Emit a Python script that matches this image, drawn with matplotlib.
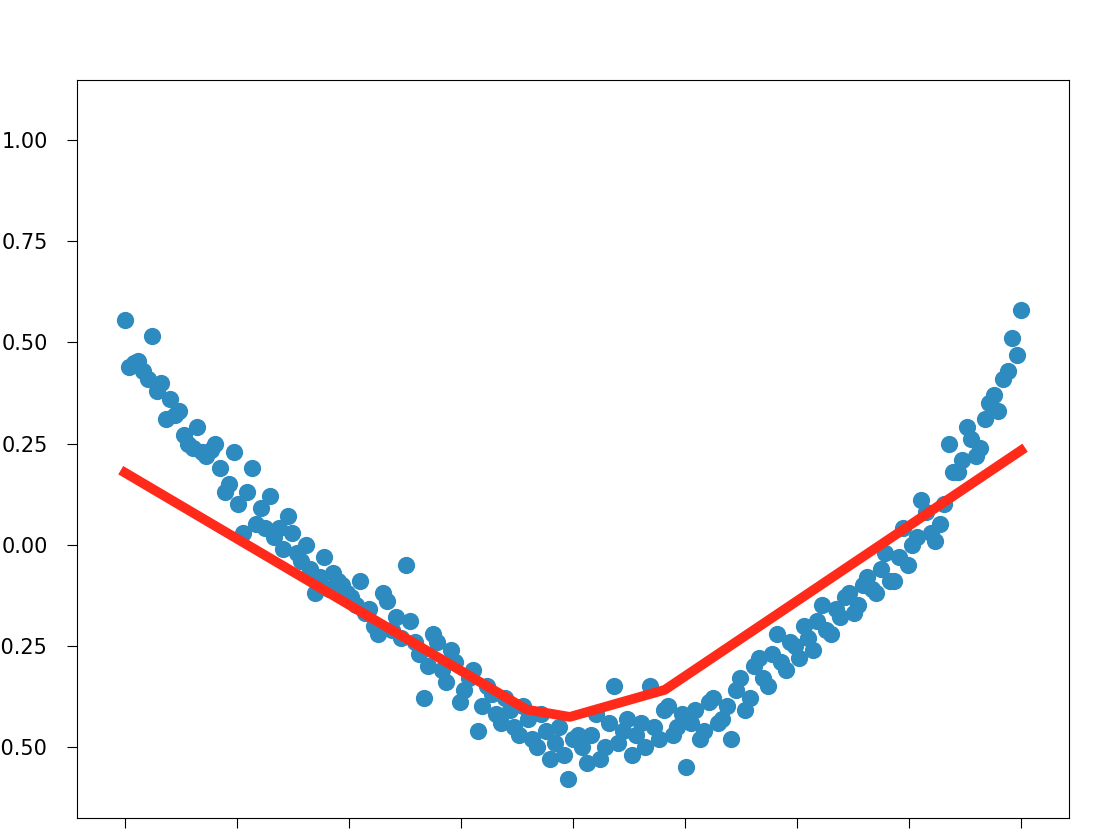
import numpy as np
import matplotlib
matplotlib.use("Agg")
import matplotlib.pyplot as plt

x_vals = np.linspace(-1, 1, 100)
y_vals = [0.555,0.45,0.43,0.515,0.40,0.36,0.33,0.25,0.29,0.22,
          0.25,0.13,0.23,0.03,0.19,0.09,0.12,0.04,0.07,-0.02,
          0.00,-0.12,-0.03,-0.07,-0.10,-0.13,-0.09,-0.16,-0.22,-0.14,
          -0.18,-0.05,-0.24,-0.38,-0.22,-0.31,-0.26,-0.39,-0.33,-0.46,
          -0.35,-0.42,-0.38,-0.45,-0.40,-0.48,-0.42,-0.53,-0.45,-0.58,
          -0.47,-0.54,-0.42,-0.50,-0.35,-0.46,-0.52,-0.44,-0.35,-0.48,
          -0.40,-0.45,-0.55,-0.41,-0.46,-0.38,-0.43,-0.48,-0.33,-0.38,
          -0.28,-0.35,-0.22,-0.31,-0.25,-0.20,-0.26,-0.15,-0.22,-0.18,
          -0.12,-0.15,-0.08,-0.12,-0.02,-0.09,0.04,0.00,0.11,0.03,
          0.05,0.25,0.18,0.29,0.22,0.31,0.37,0.41,0.51,0.58]

x_vals2 = np.linspace(-0.99, 0.99, 99)
y_vals2 = [0.44,0.455,0.41,0.38,0.31,0.32,0.27,0.24,0.23,0.235,
           0.19,0.15,0.10,0.13,0.05,0.04,0.02,-0.01,0.03,-0.04,
           -0.06,-0.08,-0.11,-0.09,-0.12,-0.15,-0.17,-0.20,-0.12,-0.21,
           -0.23,-0.19,-0.27,-0.30,-0.24,-0.34,-0.29,-0.36,-0.31,-0.40,
           -0.37,-0.44,-0.41,-0.47,-0.43,-0.50,-0.46,-0.49,-0.52,-0.48,
           -0.50,-0.47,-0.53,-0.44,-0.49,-0.43,-0.47,-0.50,-0.45,-0.41,
           -0.47,-0.42,-0.44,-0.48,-0.39,-0.44,-0.40,-0.36,-0.41,-0.30,
           -0.33,-0.27,-0.29,-0.24,-0.28,-0.23,-0.19,-0.21,-0.16,-0.13,
           -0.17,-0.10,-0.11,-0.06,-0.09,-0.03,-0.05,0.02,0.08,0.01,
           0.10,0.18,0.21,0.26,0.24,0.35,0.33,0.43,0.47]

pred_x = [-1.0, -0.103, -0.007, 0.205, 1.0]
pred_y = [0.178, -0.408, -0.426, -0.359, 0.233]

fig = plt.figure(figsize=(11.08, 8.36), dpi=100)
ax = fig.add_axes([77/1108, 1-818/836, (1069-77)/1108, (818-80)/836])
ax.scatter(np.concatenate([x_vals, x_vals2]), y_vals + y_vals2, s=130, color='#2e8bc0', zorder=2)
ax.plot(pred_x, pred_y, color='#ff2a1a', lw=7, zorder=3)
ax.set_xlim(-1.107, 1.107)
ax.set_ylim(-0.676, 1.149)
ax.set_xticks(np.arange(-1, 1.01, 0.25))
ax.set_xticklabels([])
ax.set_yticks([-0.5, -0.25, 0, 0.25, 0.5, 0.75, 1.0])
ax.set_yticklabels(['−0.50', '−0.25', '0.00', '0.25', '0.50', '0.75', '1.00'])
ax.tick_params(labelsize=15, length=7)
ax.tick_params(axis='y', pad=14)
fig.savefig("out.png", dpi=100)
